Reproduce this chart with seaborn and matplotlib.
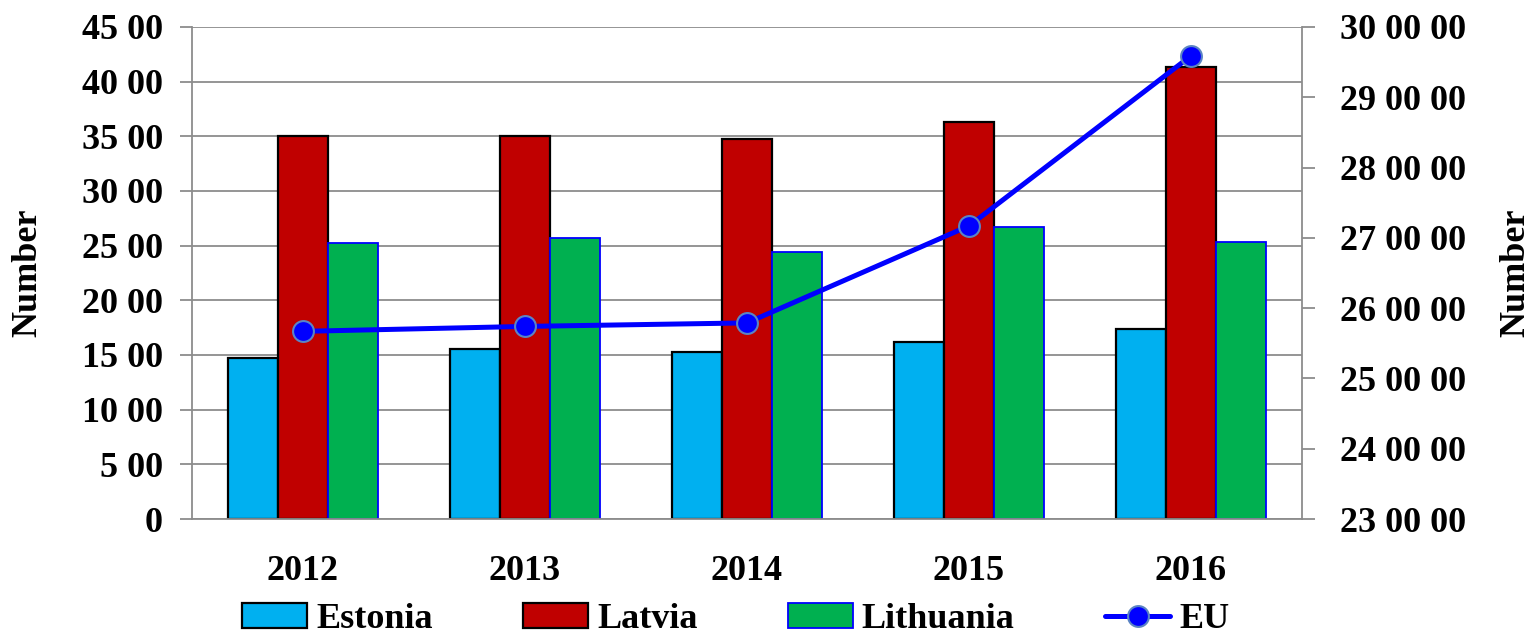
import seaborn as sns
import numpy as np
import pandas as pd
import matplotlib.pyplot as plt
from matplotlib.patches import Patch
from matplotlib.lines import Line2D

# data
years = ['2012', '2013', '2014', '2015', '2016']
estonia = [1475, 1555, 1530, 1620, 1735]
latvia = [3500, 3500, 3475, 3635, 4135]
lithuania = [2520, 2570, 2445, 2675, 2535]
eu = [2567000, 2574000, 2579000, 2717000, 2959000]

left_ticks = [0, 500, 1000, 1500, 2000, 2500, 3000, 3500, 4000, 4500]
left_labels = ['0', '5 00', '10 00', '15 00', '20 00', '25 00', '30 00', '35 00', '40 00', '45 00']
right_ticks = [2300000, 2400000, 2500000, 2600000, 2700000, 2800000, 2900000, 3000000]
right_labels = ['23 00 00', '24 00 00', '25 00 00', '26 00 00', '27 00 00', '28 00 00', '29 00 00', '30 00 00']

countries = ['Estonia', 'Latvia', 'Lithuania']
colors = ['#00B0F0', '#C00000', '#00B050']
edges = ['black', 'black', '#0000FF']
edge_w = [1.6, 1.6, 1.3]
grey = '#8c8c8c'
fs = 26

df = pd.DataFrame({
    'year': years * 3,
    'country': [c for c in countries for _ in years],
    'value': estonia + latvia + lithuania,
})

sns.set_style('white')
plt.rcParams['font.family'] = ['Liberation Serif', 'DejaVu Serif']
plt.rcParams['font.weight'] = 'bold'
plt.rcParams['axes.labelweight'] = 'bold'
plt.rcParams['text.color'] = 'black'
plt.rcParams['axes.labelcolor'] = 'black'
plt.rcParams['xtick.labelcolor'] = 'black'
plt.rcParams['ytick.labelcolor'] = 'black'

fig = plt.figure(figsize=(15.39, 6.35), dpi=100)
ax = fig.add_axes([192 / 1539, 1 - 519 / 635, 1110 / 1539, 492 / 635])

sns.barplot(data=df, x='year', y='value', hue='country', palette=colors,
            width=0.675, saturation=1, legend=False, ax=ax)
for cont, ec, lw in zip(ax.containers, edges, edge_w):
    for bar in cont:
        bar.set_edgecolor(ec)
        bar.set_linewidth(lw)

ax.set_axisbelow(True)
ax.yaxis.grid(True, color=grey, lw=1.3)
ax.xaxis.grid(False)

ax2 = ax.twinx()
sns.pointplot(x=years, y=eu, ax=ax2, color='#0000FF', markers='o',
              errorbar=None, linewidth=3.6, markersize=15)
for ln in ax2.lines:
    ln.set_markeredgecolor('#5B84C4')
    ln.set_markeredgewidth(1.5)
    ln.set_zorder(5)

ax.set_xlim(-0.5, 4.5)
ax.set_ylim(0, 4500)
ax.set_yticks(left_ticks, left_labels)
ax.set_xticks(range(len(years)), years)
ax.set_xticks(np.arange(-0.5, len(years), 1), minor=True)
ax.tick_params(axis='y', length=9, width=1.3, color=grey, pad=12, labelsize=fs)
ax.tick_params(axis='x', which='major', length=0, pad=26, labelsize=fs)
ax.tick_params(axis='x', which='minor', length=8, width=1.3, color=grey)
ax.set_xlabel('')
ax.set_ylabel('Number', fontsize=fs)
ax.yaxis.set_label_coords(-0.133, 0.5)

ax2.set_ylim(2300000, 3000000)
ax2.set_yticks(right_ticks, right_labels)
ax2.tick_params(axis='y', length=9, width=1.3, color=grey, pad=18, labelsize=fs)
ax2.set_ylabel('Number', fontsize=fs)
ax2.yaxis.set_label_coords(1.178, 0.5)
ax2.set_xlabel('')

for a in (ax, ax2):
    for s in a.spines.values():
        s.set_color(grey)
        s.set_linewidth(1.3)
    a.spines['top'].set_visible(False)
ax.spines['right'].set_visible(False)
ax2.spines['left'].set_visible(False)
ax2.spines['bottom'].set_visible(False)

handles = [Patch(facecolor=c, edgecolor=e, linewidth=w) for c, e, w in zip(colors, edges, edge_w)]
handles.append(Line2D([], [], color='#0000FF', lw=3.6, marker='o', markersize=15,
                      markeredgecolor='#5B84C4', markeredgewidth=1.5))
fig.legend(handles, countries + ['EU'], loc='center', bbox_to_anchor=(0.478, 0.024),
           ncol=4, frameon=False, fontsize=fs, handlelength=1.8,
           handletextpad=0.25, columnspacing=2.5)

fig.savefig('out.png', dpi=100)
